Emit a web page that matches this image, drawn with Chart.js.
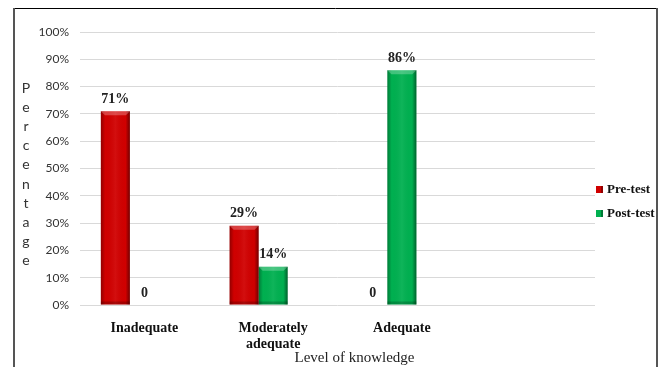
<!DOCTYPE html>
<html>
<head>
<meta charset="utf-8">
<script src="https://cdn.jsdelivr.net/npm/chart.js@4.4.1/dist/chart.umd.min.js"></script>
<style>
  html, body { margin: 0; padding: 0; background: #fff; }
  #wrap { width: 661px; height: 367px; }
</style>
</head>
<body>
<div id="wrap"><canvas id="knowledgeChart" width="661" height="367"></canvas></div>
<script>
// categories (the last one is the empty slot Excel left on the right)
const categories = ['Inadequate', ['Moderately', 'adequate'], 'Adequate', ''];
const preTest = [71, 29, 0, null];
const postTest = [0, 14, 86, null];
// empty third series, it only holds the space next to each pair of bars
const spacer = [null, null, null, null];
const yTicks = [0, 10, 20, 30, 40, 50, 60, 70, 80, 90, 100];
const yTitle = 'Percentage';
const xTitle = 'Level of knowledge';

const serif = '"Liberation Serif", "Times New Roman", serif';
const sans = 'Lato, "Open Sans", sans-serif';

// frame, stacked y title, value labels, bar shading and legend
const decorations = {
  id: 'decorations',
  beforeDraw(chart) {
    const ctx = chart.ctx;
    ctx.save();
    ctx.fillStyle = '#fff';
    ctx.fillRect(0, 0, chart.width, chart.height);
    ctx.strokeStyle = '#000';
    ctx.lineWidth = 1;
    ctx.beginPath();
    ctx.moveTo(13, 8.5);
    ctx.lineTo(658, 8.5);
    ctx.stroke();
    ctx.strokeStyle = '#555';
    ctx.lineWidth = 2;
    ctx.beginPath();
    ctx.moveTo(14, 8);
    ctx.lineTo(14, chart.height);
    ctx.moveTo(657, 8);
    ctx.lineTo(657, chart.height);
    ctx.stroke();
    ctx.restore();
  },
  afterDatasetsDraw(chart) {
    const ctx = chart.ctx;
    const area = chart.chartArea;
    ctx.save();
    chart.data.datasets.forEach((ds, di) => {
      if (!ds.label) return;
      const meta = chart.getDatasetMeta(di);
      meta.data.forEach((bar, i) => {
        const v = ds.data[i];
        if (v === null) return;
        const left = bar.x - bar.width / 2;
        const h = bar.base - bar.y;
        if (h > 0) {
          // bevel look: dark sides, light top edge
          const g = ctx.createLinearGradient(left, 0, left + bar.width, 0);
          g.addColorStop(0, 'rgba(0,0,0,0.30)');
          g.addColorStop(0.15, 'rgba(0,0,0,0.0)');
          g.addColorStop(0.5, 'rgba(255,255,255,0.06)');
          g.addColorStop(0.85, 'rgba(0,0,0,0.0)');
          g.addColorStop(1, 'rgba(0,0,0,0.45)');
          ctx.fillStyle = g;
          ctx.fillRect(left, bar.y, bar.width, h);
          ctx.fillStyle = 'rgba(255,255,255,0.25)';
          ctx.beginPath();
          ctx.moveTo(left, bar.y);
          ctx.lineTo(left + bar.width, bar.y);
          ctx.lineTo(left + bar.width - 4, bar.y + 4);
          ctx.lineTo(left + 4, bar.y + 4);
          ctx.closePath();
          ctx.fill();
          ctx.fillStyle = 'rgba(0,0,0,0.2)';
          ctx.fillRect(left, bar.base - 3, bar.width, 3);
        }
        ctx.fillStyle = '#222';
        ctx.font = 'bold 14px ' + serif;
        ctx.textAlign = 'center';
        ctx.textBaseline = 'bottom';
        ctx.fillText(v === 0 ? '0' : v + '%', bar.x, bar.y - 5);
      });
    });

    // y title, one letter per line
    ctx.fillStyle = '#333';
    ctx.font = '14px ' + sans;
    ctx.textAlign = 'center';
    ctx.textBaseline = 'middle';
    const mid = (area.top + area.bottom) / 2 + 6;
    const step = 19.2;
    const startY = mid - step * (yTitle.length - 1) / 2;
    yTitle.split('').forEach((ch, i) => ctx.fillText(ch, 26, startY + i * step));

    // x title
    ctx.fillStyle = '#222';
    ctx.font = '15px ' + serif;
    ctx.fillText(xTitle, (area.left + area.right) / 2 + 17, 358);

    // legend
    ctx.textAlign = 'left';
    ctx.font = 'bold 13px ' + serif;
    let ly = area.top + 158;
    chart.data.datasets.forEach(ds => {
      if (!ds.label) return;
      ctx.fillStyle = ds.backgroundColor;
      ctx.fillRect(area.right + 1, ly - 4, 7, 7);
      ctx.fillStyle = 'rgba(0,0,0,0.3)';
      ctx.fillRect(area.right + 6, ly - 4, 2, 7);
      ctx.fillStyle = '#111';
      ctx.fillText(ds.label, area.right + 12, ly);
      ly += 24;
    });
    ctx.restore();
  }
};

new Chart(document.getElementById('knowledgeChart').getContext('2d'), {
  type: 'bar',
  data: {
    labels: categories,
    datasets: [
      { label: 'Pre-test', data: preTest, backgroundColor: '#D00000' },
      { label: 'Post-test', data: postTest, backgroundColor: '#00B050' },
      { label: '', data: spacer, backgroundColor: 'rgba(0,0,0,0)' }
    ]
  },
  options: {
    responsive: false,
    animation: false,
    layout: { padding: { top: 32, right: 66, left: 0, bottom: 0 } },
    categoryPercentage: 0.676,
    barPercentage: 1,
    plugins: {
      legend: { display: false },
      tooltip: { enabled: false }
    },
    scales: {
      x: {
        grid: { display: false },
        border: { display: false },
        ticks: {
          autoSkip: false,
          maxRotation: 0,
          padding: 7,
          color: '#111',
          font: { family: serif, size: 14, weight: 'bold', lineHeight: 1.15 }
        },
        afterFit(scale) { scale.height = 62; }
      },
      y: {
        min: 0,
        max: 100,
        afterBuildTicks(scale) { scale.ticks = yTicks.map(v => ({ value: v })); },
        grid: { color: '#D9D9D9', lineWidth: 1, drawTicks: false },
        border: { display: false },
        ticks: {
          padding: 11,
          color: '#333',
          font: { family: sans, size: 12 },
          callback: v => v + '%'
        },
        afterFit(scale) { scale.width = 80; }
      }
    }
  },
  plugins: [decorations]
});
</script>
</body>
</html>
